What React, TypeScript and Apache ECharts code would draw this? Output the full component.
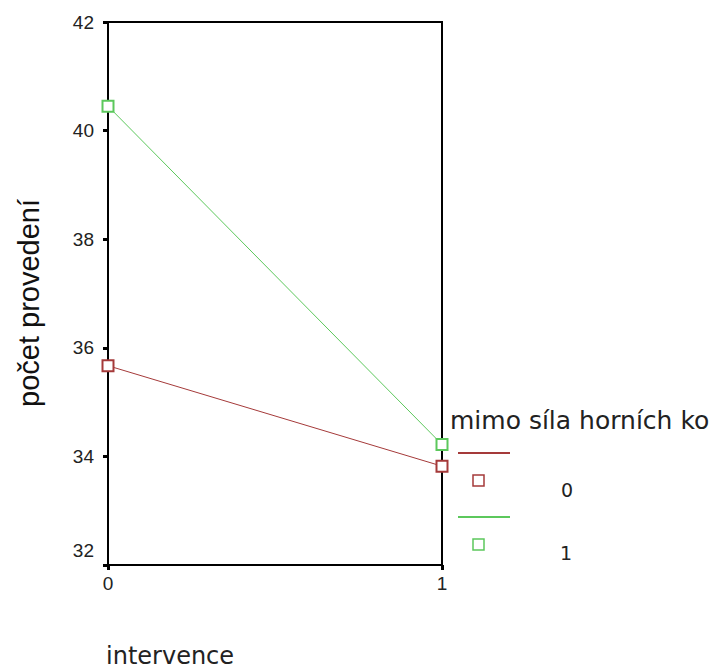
import React, { useEffect, useRef } from "react";
import * as echarts from "echarts";

const xValues = [0, 1];
const groupNames = ["0", "1"];
const group0 = [35.67, 33.82];
const group1 = [40.45, 34.22];
const yTicks = [32, 34, 36, 38, 40, 42];
const legendTitle = "mimo síla horních ko";
const xTitle = "intervence";
const yTitle = "počet provedení";

const RED = "#a53a3a";
const GREEN = "#5cc85c";

export default function App() {
  const ref = useRef<HTMLDivElement>(null);
  useEffect(() => {
    if (!ref.current) return;
    const chart = echarts.init(ref.current, undefined, { renderer: "svg" });
    const mk = (vals: number[]) => vals.map((v, i) => [xValues[i], v]);
    chart.setOption({
      animation: false,
      backgroundColor: "#ffffff",
      grid: {
        left: 108,
        right: 271,
        top: 22,
        bottom: 104,
        show: true,
        borderColor: "#000",
        borderWidth: 2,
        backgroundColor: "transparent",
      },
      xAxis: {
        type: "value",
        min: 0,
        max: 1,
        interval: 1,
        splitLine: { show: false },
        axisLine: { onZero: false, lineStyle: { color: "#000", width: 2 } },
        axisTick: { show: true, length: 5, lineStyle: { color: "#000", width: 3 } },
        axisLabel: {
          fontFamily: "Liberation Sans",
          fontSize: 19,
          color: "#222",
          margin: 9,
        },
      },
      yAxis: {
        type: "value",
        min: 32,
        max: 42,
        interval: 2,
        splitLine: { show: false },
        axisLine: { onZero: false, lineStyle: { color: "#000", width: 2 } },
        axisTick: { show: true, length: 5, lineStyle: { color: "#000", width: 3 } },
        axisLabel: {
          fontFamily: "Liberation Sans",
          fontSize: 19,
          color: "#222",
          margin: 14,
          formatter: (v: number) =>
            yTicks.includes(v) ? (v === 32 ? "{low|" + v + "}" : String(v)) : "",
          rich: {
            low: {
              fontFamily: "Liberation Sans",
              fontSize: 19,
              color: "#222",
              padding: [0, 0, 30, 0],
            },
          },
        },
      },
      series: [
        {
          name: groupNames[0],
          type: "line",
          data: mk(group0),
          symbol: "emptyRect",
          symbolSize: 11,
          color: RED,
          lineStyle: { color: RED, width: 1 },
          itemStyle: { color: RED, borderColor: RED, borderWidth: 1.5 },
        },
        {
          name: groupNames[1],
          type: "line",
          data: mk(group1),
          symbol: "emptyRect",
          symbolSize: 11,
          color: GREEN,
          lineStyle: { color: GREEN, width: 1 },
          itemStyle: { color: GREEN, borderColor: GREEN, borderWidth: 1.5 },
        },
      ],
      graphic: [
        {
          type: "text",
          x: 29,
          y: 303,
          rotation: Math.PI / 2,
          style: {
            text: yTitle,
            fontFamily: "Liberation Sans",
            fontSize: 29,
            fill: "#111",
            align: "center",
            verticalAlign: "middle",
          },
        },
        {
          type: "text",
          x: 106,
          y: 656,
          style: {
            text: xTitle,
            fontFamily: "DejaVu Sans",
            fontSize: 24,
            fill: "#222",
            align: "left",
            verticalAlign: "middle",
          },
        },
        {
          type: "text",
          x: 450,
          y: 420,
          style: {
            text: legendTitle,
            fontFamily: "DejaVu Sans",
            fontSize: 25,
            fill: "#222",
            align: "left",
            verticalAlign: "middle",
          },
        },
        { type: "line", shape: { x1: 458, y1: 453, x2: 510, y2: 453 }, style: { stroke: RED, lineWidth: 2 } },
        { type: "rect", shape: { x: 473, y: 475, width: 11, height: 11 }, style: { fill: "#fff", stroke: RED, lineWidth: 1.5 } },
        {
          type: "text",
          x: 567,
          y: 490,
          style: { text: groupNames[0], fontFamily: "DejaVu Sans", fontSize: 19, fill: "#222", align: "center", verticalAlign: "middle" },
        },
        { type: "line", shape: { x1: 458, y1: 517, x2: 510, y2: 517 }, style: { stroke: GREEN, lineWidth: 2 } },
        { type: "rect", shape: { x: 473, y: 539, width: 11, height: 11 }, style: { fill: "#fff", stroke: GREEN, lineWidth: 1.5 } },
        {
          type: "text",
          x: 566,
          y: 553,
          style: { text: groupNames[1], fontFamily: "DejaVu Sans", fontSize: 19, fill: "#222", align: "center", verticalAlign: "middle" },
        },
      ],
    });
    return () => chart.dispose();
  }, []);
  return (
    <div
      ref={ref}
      style={{ position: "absolute", left: 0, top: 0, width: 713, height: 669 }}
    />
  );
}
